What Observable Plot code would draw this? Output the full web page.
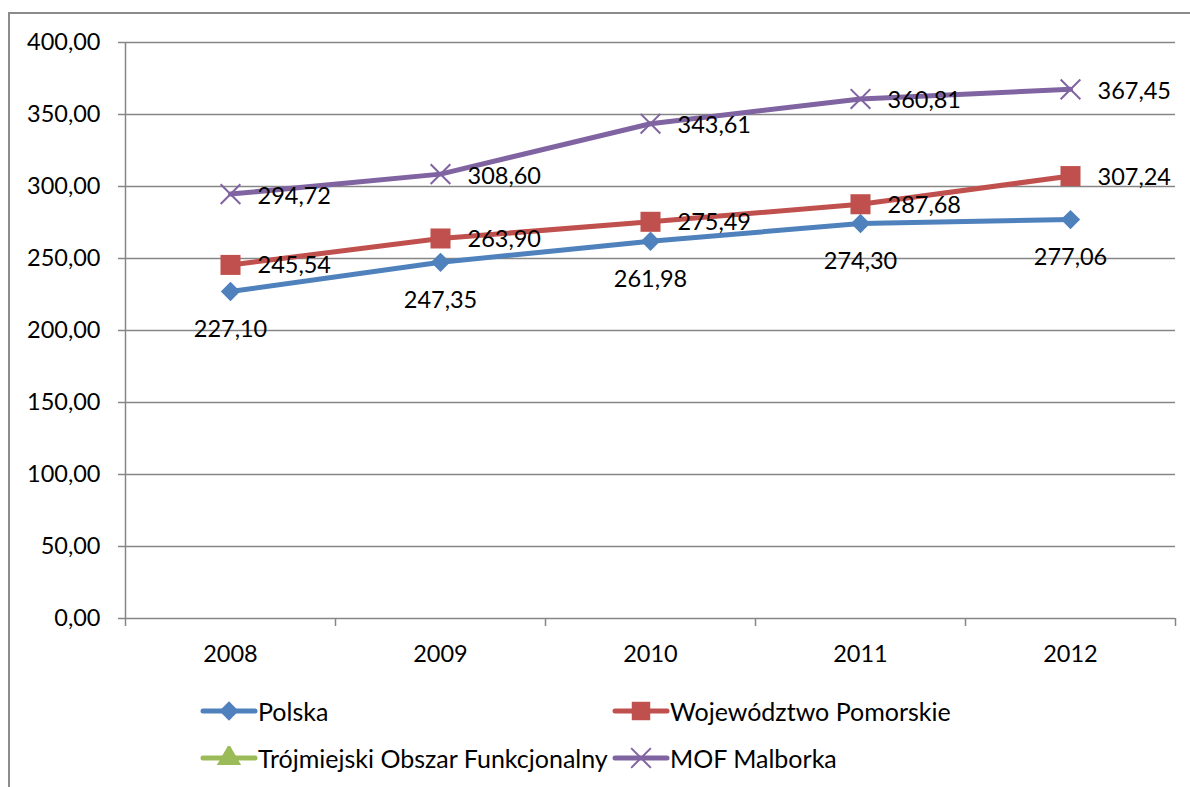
<!DOCTYPE html>
<html>
<head>
<meta charset="utf-8">
<script src="https://cdn.jsdelivr.net/npm/d3@7"></script>
<script src="https://cdn.jsdelivr.net/npm/@observablehq/plot@0.6"></script>
<style>
  html, body { margin: 0; padding: 0; background: #fff; }
  body { width: 1190px; height: 787px; position: relative; overflow: hidden; font-family: Lato, "Open Sans", sans-serif; }
  #frame { position: absolute; left: 8px; top: 12px; width: 1300px; height: 900px; border-top: 2px solid #8c8c8c; border-left: 2px solid #8c8c8c; }
  #chart { position: absolute; left: 0; top: 0; }
  .leg { position: absolute; display: flex; align-items: center; font-size: 25px; color: #000; white-space: nowrap; }
  .leg svg { display: block; margin-right: 0px; }
</style>
</head>
<body>
<div id="frame"></div>
<div id="chart"></div>
<div id="legend"></div>
<script>
const years = [2008, 2009, 2010, 2011, 2012];
const polska = [227.10, 247.35, 261.98, 274.30, 277.06];
const pomorskie = [245.54, 263.90, 275.49, 287.68, 307.24];
const trojmiejski = [null, null, null, null, null];
const malborka = [294.72, 308.60, 343.61, 360.81, 367.45];
const seriesNames = ["Polska", "Województwo Pomorskie", "Trójmiejski Obszar Funkcjonalny", "MOF Malborka"];
const seriesColors = ["#4F81BD", "#C0504D", "#9BBB59", "#8064A2"];
const yTicks = [0, 50, 100, 150, 200, 250, 300, 350, 400];

const fmt = v => v.toFixed(2).replace(".", ",");
const toRows = (vals, name) => years.map((y, i) => ({year: y, value: vals[i], series: name})).filter(d => d.value != null);
const rowsPolska = toRows(polska, seriesNames[0]);
const rowsPom = toRows(pomorskie, seriesNames[1]);
const rowsMal = toRows(malborka, seriesNames[3]);
const boundaries = [years[0] - 0.5, ...years.map(y => y + 0.5)];
const grid = "#868686";
const FS = 23.5;

const plot = Plot.plot({
  width: 1190,
  height: 680,
  marginLeft: 125,
  marginRight: 15,
  marginTop: 42,
  marginBottom: 62,
  style: {fontFamily: "Lato, 'Open Sans', sans-serif", fontSize: FS + "px", color: "#000", background: "transparent"},
  x: {domain: [boundaries[0], boundaries[boundaries.length - 1]]},
  y: {domain: [0, 400]},
  marks: [
    Plot.gridY(yTicks, {stroke: grid, strokeOpacity: 1, strokeWidth: 1.5}),
    Plot.ruleX([boundaries[0]], {stroke: grid, strokeWidth: 1.5}),
    Plot.axisY({ticks: yTicks, tickSize: 7, tickPadding: 18, tickFormat: fmt, stroke: grid, strokeWidth: 1.5, fill: "#000", fontSize: FS, label: null}),
    Plot.axisX({ticks: boundaries, tickSize: 8, tickFormat: () => "", stroke: grid, strokeWidth: 1.5, label: null}),
    Plot.axisX({ticks: years, tickSize: 0, tickPadding: 27, tickFormat: d => String(d), fill: "#000", fontSize: FS, label: null}),
    Plot.line(rowsPolska, {x: "year", y: "value", stroke: seriesColors[0], strokeWidth: 5}),
    Plot.line(rowsPom, {x: "year", y: "value", stroke: seriesColors[1], strokeWidth: 5}),
    Plot.line(rowsMal, {x: "year", y: "value", stroke: seriesColors[3], strokeWidth: 5}),
    Plot.dot(rowsPolska, {x: "year", y: "value", symbol: "diamond2", r: 8.7, fill: seriesColors[0], stroke: "none"}),
    Plot.dot(rowsPom, {x: "year", y: "value", symbol: "square", r: 11.3, fill: seriesColors[1], stroke: "none"}),
    Plot.dot(rowsMal, {x: "year", y: "value", symbol: "times", r: 9, stroke: seriesColors[3], strokeWidth: 2, fill: "none"}),
    Plot.text(rowsPolska, {x: "year", y: "value", text: d => fmt(d.value), dy: 38, fill: "#000", fontSize: FS, textAnchor: "middle", lineAnchor: "middle"}),
    Plot.text(rowsPom, {x: "year", y: "value", text: d => fmt(d.value), dx: 27, dy: 1, fill: "#000", fontSize: FS, textAnchor: "start", lineAnchor: "middle"}),
    Plot.text(rowsMal, {x: "year", y: "value", text: d => fmt(d.value), dx: 27, dy: 2, fill: "#000", fontSize: FS, textAnchor: "start", lineAnchor: "middle"})
  ]
});
document.getElementById("chart").appendChild(plot);

// Legend
const symbols = [d3.symbolDiamond2, d3.symbolSquare, d3.symbolTriangle, d3.symbolTimes];
const sizes = [Math.PI * 8.7 * 8.7, Math.PI * 11.3 * 11.3 * 0.85, Math.PI * 9 * 9, Math.PI * 9 * 9];
const legPos = [[200, 711], [612, 711], [200, 758], [612, 758]];
const legend = document.getElementById("legend");
seriesNames.forEach((name, i) => {
  const div = document.createElement("div");
  div.className = "leg";
  div.style.left = legPos[i][0] + "px";
  div.style.top = (legPos[i][1] - 16) + "px";
  div.style.height = "32px";
  const isTimes = i === 3;
  const path = d3.symbol(symbols[i], sizes[i])();
  div.innerHTML = `<svg width="58" height="24" viewBox="0 0 58 24">
    <line x1="3" y1="12" x2="55" y2="12" stroke="${seriesColors[i]}" stroke-width="5" stroke-linecap="round"/>
    <path transform="translate(29,12)" d="${path}" fill="${isTimes ? "none" : seriesColors[i]}" stroke="${isTimes ? seriesColors[i] : "none"}" stroke-width="2"/>
  </svg><span>${name}</span>`;
  legend.appendChild(div);
});
</script>
</body>
</html>
